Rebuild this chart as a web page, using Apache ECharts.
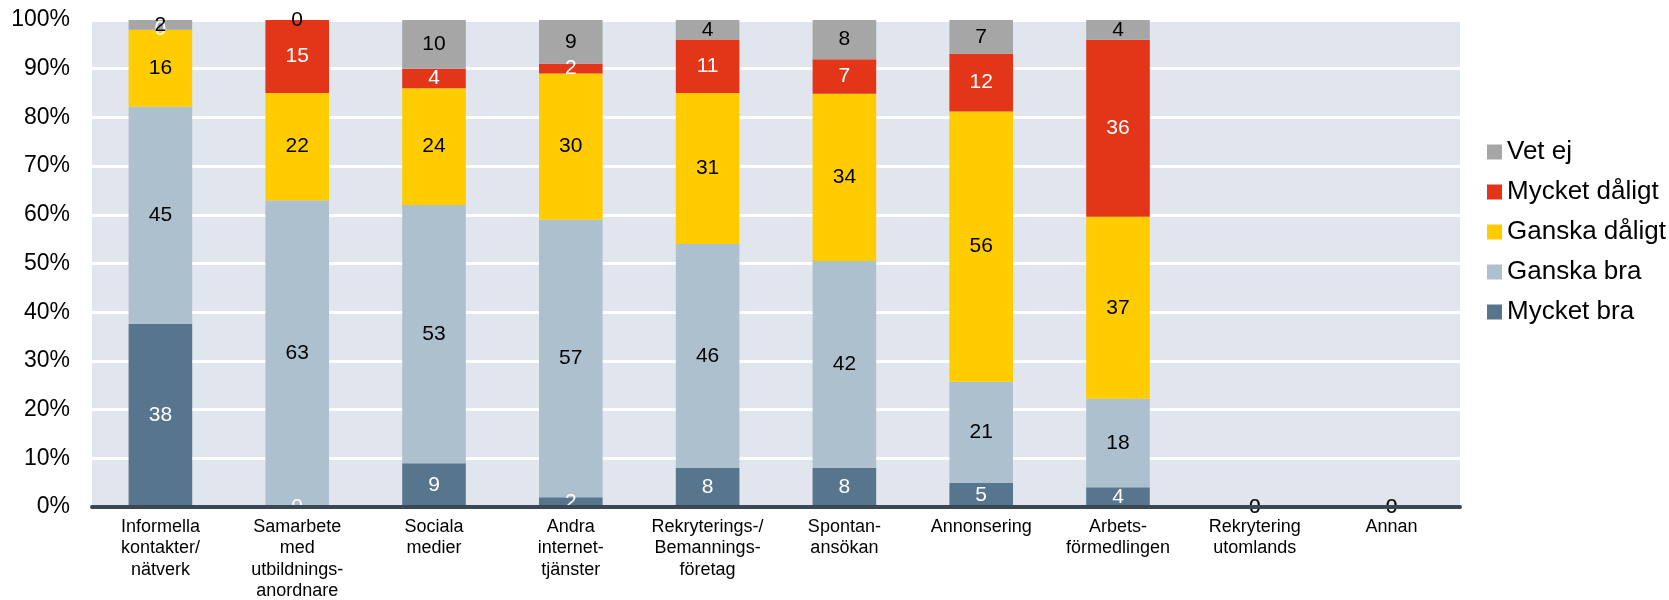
<!DOCTYPE html>
<html>
<head>
<meta charset="utf-8">
<script src="https://cdn.jsdelivr.net/npm/echarts@6/dist/echarts.min.js"></script>
<style>
  html, body { margin: 0; padding: 0; background: #fff; }
  #chart { width: 1669px; height: 600px; }
</style>
</head>
<body>
<div id="chart"></div>
<script>
// kategorier och andelar (procent, avrundade som i originalet)
var categories = [
  'Informella\nkontakter/\nnätverk',
  'Samarbete\nmed\nutbildnings-\nanordnare',
  'Sociala\nmedier',
  'Andra\ninternet-\ntjänster',
  'Rekryterings-/\nBemannings-\nföretag',
  'Spontan-\nansökan',
  'Annonsering',
  'Arbets-\nförmedlingen',
  'Rekrytering\nutomlands',
  'Annan'
]
var mycketBra = [38, 0, 9, 2, 8, 8, 5, 4, 0, 0]
var ganskaBra = [45, 63, 53, 57, 46, 42, 21, 18, 0, 0]
var ganskaDaligt = [16, 22, 24, 30, 31, 34, 56, 37, 0, 0]
var mycketDaligt = [0, 15, 4, 2, 11, 7, 12, 36, 0, 0]
var vetEj = [2, 0, 10, 9, 4, 8, 7, 4, 0, 0]
var yTicks = ['0%', '10%', '20%', '30%', '40%', '50%', '60%', '70%', '80%', '90%', '100%']

var all = [mycketBra, ganskaBra, ganskaDaligt, mycketDaligt, vetEj]
var totals = categories.map(function (c, i) {
  return all.reduce(function (s, arr) { return s + arr[i] }, 0)
})

function makeSeries (name, arr, color, labelColor) {
  return {
    name: name,
    type: 'bar',
    stack: 'tot',
    barWidth: '46.5%',
    itemStyle: { color: color },
    label: {
      show: true,
      position: 'inside',
      color: labelColor,
      fontSize: 21,
      fontFamily: 'Liberation Sans',
      formatter: function (p) { return arr[p.dataIndex] }
    },
    data: arr.map(function (v, i) {
      return totals[i] ? v / totals[i] * 100 : 0
    })
  }
}

var myChart = echarts.init(document.getElementById('chart'))
myChart.setOption({
  animation: false,
  textStyle: { fontFamily: 'Liberation Sans' },
  grid: {
    left: 92,
    right: 209,
    top: 20,
    bottom: 93,
    outerBoundsMode: 'none',
    show: true,
    backgroundColor: '#e1e6ee',
    borderWidth: 0
  },
  legend: {
    orient: 'vertical',
    left: 1482,
    top: 134,
    itemWidth: 15,
    itemHeight: 15,
    itemGap: 14,
    icon: 'rect',
    textStyle: { fontSize: 26, lineHeight: 26, color: '#000', fontFamily: 'Liberation Sans' },
    data: ['Vet ej', 'Mycket dåligt', 'Ganska dåligt', 'Ganska bra', 'Mycket bra']
  },
  xAxis: {
    type: 'category',
    data: categories,
    axisLine: { show: true, lineStyle: { color: '#3b4853', width: 4 } },
    axisTick: { show: false },
    axisLabel: {
      interval: 0,
      margin: 9,
      fontSize: 18,
      lineHeight: 21.5,
      color: '#000',
      fontFamily: 'Liberation Sans'
    },
    z: 10
  },
  yAxis: {
    type: 'value',
    min: 0,
    max: 100,
    interval: 10,
    axisLine: { show: false },
    axisTick: { show: false },
    splitLine: { lineStyle: { color: '#ffffff', width: 3 } },
    axisLabel: {
      margin: 22,
      fontSize: 23,
      color: '#000',
      fontFamily: 'Liberation Sans',
      formatter: function (v) { return yTicks[Math.round(v / 10)] }
    }
  },
  series: [
    makeSeries('Mycket bra', mycketBra, '#57758d', '#ffffff'),
    makeSeries('Ganska bra', ganskaBra, '#adc0ce', '#000000'),
    makeSeries('Ganska dåligt', ganskaDaligt, '#ffcc00', '#000000'),
    makeSeries('Mycket dåligt', mycketDaligt, '#e33618', '#ffffff'),
    makeSeries('Vet ej', vetEj, '#a6a6a6', '#000000')
  ]
})
</script>
</body>
</html>
